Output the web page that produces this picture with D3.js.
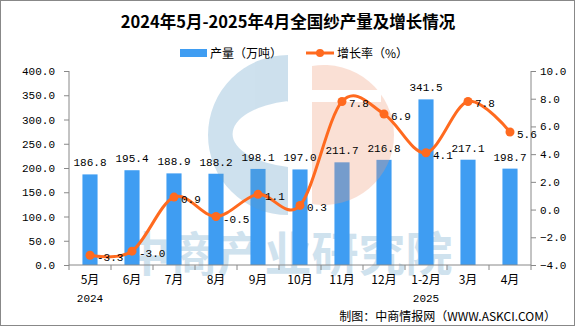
<!DOCTYPE html>
<html><head><meta charset="utf-8">
<script src="https://cdn.jsdelivr.net/npm/d3@7/dist/d3.min.js"></script>
<style>
html,body{margin:0;padding:0;background:#fff;}
svg{display:block;}
</style></head>
<body><svg id="c" width="575" height="326"></svg>
<script>
const categories = ["5月","6月","7月","8月","9月","10月","11月","12月","1-2月","3月","4月"];
const yearLabels = ["2024","","","","","","","","2025","",""];
const production = [186.8,195.4,188.9,188.2,198.1,197.0,211.7,216.8,341.5,217.1,198.7];
const growth = [-3.3,-3.0,0.9,-0.5,1.1,0.3,7.8,6.9,4.1,7.8,5.6];
const leftTicks = [0,50,100,150,200,250,300,350,400];
const rightTicks = [-4,-2,0,2,4,6,8,10];

const numFont = "'Liberation Mono','Noto Sans CJK SC',monospace";
const cjkFont = "'Noto Sans CJK SC','Liberation Mono',sans-serif";
const svg = d3.select("#c");
const W = 575, H = 326;
const m = {l:69, r:531, t:71, b:265};

svg.append("rect").attr("x",0.5).attr("y",0.5).attr("width",W-1).attr("height",H-1)
  .attr("fill","#fff").attr("stroke","#888");

const x = d3.scaleBand().domain(categories).range([m.l,m.r]).paddingInner(0.64).paddingOuter(0.32);
const yL = d3.scaleLinear().domain([0,400]).range([m.b,m.t]);
const yR = d3.scaleLinear().domain([-4,10]).range([m.b,m.t]);

// title
svg.append("text").attr("x",288).attr("y",28).attr("text-anchor","middle")
  .attr("font-family",cjkFont).attr("font-weight","bold").attr("font-size",16.5).attr("fill","#000")
  .text("2024年5月-2025年4月全国纱产量及增长情况");

// legend
const lg = svg.append("g");
lg.append("rect").attr("x",180).attr("y",49).attr("width",27).attr("height",8).attr("fill","#3F9DF2");
lg.append("text").attr("x",210).attr("y",57.5).attr("font-family",cjkFont).attr("font-size",12).text("产量（万吨）");
lg.append("line").attr("x1",306).attr("x2",334).attr("y1",53).attr("y2",53).attr("stroke","#FF6A1F").attr("stroke-width",3);
lg.append("circle").attr("cx",320).attr("cy",53).attr("r",4).attr("fill","#FF6A1F");
lg.append("text").attr("x",337).attr("y",57.5).attr("font-family",cjkFont).attr("font-size",12).text("增长率（%）");

// watermark text (behind bars)
svg.append("text").attr("x",288).attr("y",271).attr("text-anchor","middle")
  .attr("font-family",cjkFont).attr("font-weight","bold").attr("font-size",47)
  .attr("fill","#CFE2EE").text("中商产业研究院");

// bars
svg.append("g").selectAll("rect").data(production).join("rect")
  .attr("x",(d,i)=>x(categories[i])).attr("width",x.bandwidth())
  .attr("y",d=>yL(d)).attr("height",d=>yL(0)-yL(d)).attr("fill","#3F9DF2");

// watermark logo (over bars, translucent)
const wm = svg.append("g").attr("opacity",0.3);
const cx0 = 288, cy0 = 135, R = 80;
wm.append("path").attr("fill","#5D9BC6").attr("fill-rule","evenodd")
  .attr("d",`M${cx0},${cy0-R} A${R},${R} 0 0 0 ${cx0},${cy0+R} Z M${cx0},${cy0-34} A73,34 0 0 0 ${cx0},${cy0+32} Z`);
const pcx = 300, pcy = 135, pr = 70;
const dx = 312-pcx, dy = Math.sqrt(pr*pr-dx*dx);
wm.append("path").attr("fill","#F19A78")
  .attr("d",`M312,${pcy-dy} A${pr},${pr} 0 1 1 312,${pcy+dy} Z`);
wm.append("rect").attr("x",311).attr("y",90).attr("width",70).attr("height",12).attr("fill","#fff").attr("opacity",1);

// axes
const axisColor = "#888";
const gL = svg.append("g").attr("transform",`translate(${m.l},0)`)
  .call(d3.axisLeft(yL).tickValues(leftTicks).tickSize(5).tickPadding(9).tickFormat(d3.format(".1f")));
const gR = svg.append("g").attr("transform",`translate(${m.r},0)`)
  .call(d3.axisRight(yR).tickValues(rightTicks).tickSize(5).tickPadding(4).tickFormat(d3.format(".1f")));
const gX = svg.append("g").attr("transform",`translate(0,${m.b})`)
  .call(d3.axisBottom(x).tickSize(0).tickPadding(13));
[gL,gR,gX].forEach(g=>{
  g.select(".domain").attr("stroke",axisColor);
  g.selectAll(".tick line").attr("stroke",axisColor);
  g.selectAll("text").attr("fill","#000").attr("font-family",numFont).attr("font-size",11);
});
gL.select(".domain").attr("d",`M0,${m.t}V${m.b}`);
gR.select(".domain").attr("d",`M0,${m.t}V${m.b}`);
gX.select(".domain").attr("d",`M${m.l},0H${m.r}`);
gX.selectAll(".tick text").attr("font-size",12).attr("font-family",cjkFont).attr("dy","0.5em");
// x boundary ticks
const step = x.step();
const bounds = d3.range(categories.length+1).map(i=>m.l + i*step);
gX.append("g").selectAll("line").data(bounds).join("line")
  .attr("x1",d=>d).attr("x2",d=>d).attr("y1",0).attr("y2",5).attr("stroke",axisColor);
// year labels
svg.append("g").selectAll("text").data(yearLabels).join("text")
  .attr("x",(d,i)=>x(categories[i])+x.bandwidth()/2).attr("y",302).attr("text-anchor","middle")
  .attr("font-family",numFont).attr("font-size",11).text(d=>d);

// bar labels
svg.append("g").selectAll("text").data(production).join("text")
  .attr("x",(d,i)=>x(categories[i])+x.bandwidth()/2).attr("y",d=>yL(d)-8).attr("text-anchor","middle")
  .attr("font-family",numFont).attr("font-size",11).text(d=>d.toFixed(1));

// line
const cxp = i=>x(categories[i])+x.bandwidth()/2;
const line = d3.line().x((d,i)=>cxp(i)).y(d=>yR(d)).curve(d3.curveCardinal.tension(0));
svg.append("path").datum(growth).attr("d",line).attr("fill","none").attr("stroke","#FF6A1F").attr("stroke-width",3);
svg.append("g").selectAll("circle").data(growth).join("circle")
  .attr("cx",(d,i)=>cxp(i)).attr("cy",d=>yR(d)).attr("r",4.5).attr("fill","#FF6A1F");
svg.append("g").selectAll("text").data(growth).join("text")
  .attr("x",(d,i)=>cxp(i)+7).attr("y",d=>yR(d)+6)
  .attr("font-family",numFont).attr("font-size",11).text(d=>d.toFixed(1));

// footer
svg.append("text").attr("x",556).attr("y",321).attr("text-anchor","end")
  .attr("font-family",cjkFont).attr("font-size",12).text("制图：中商情报网（WWW.ASKCI.COM）");
</script></body></html>
